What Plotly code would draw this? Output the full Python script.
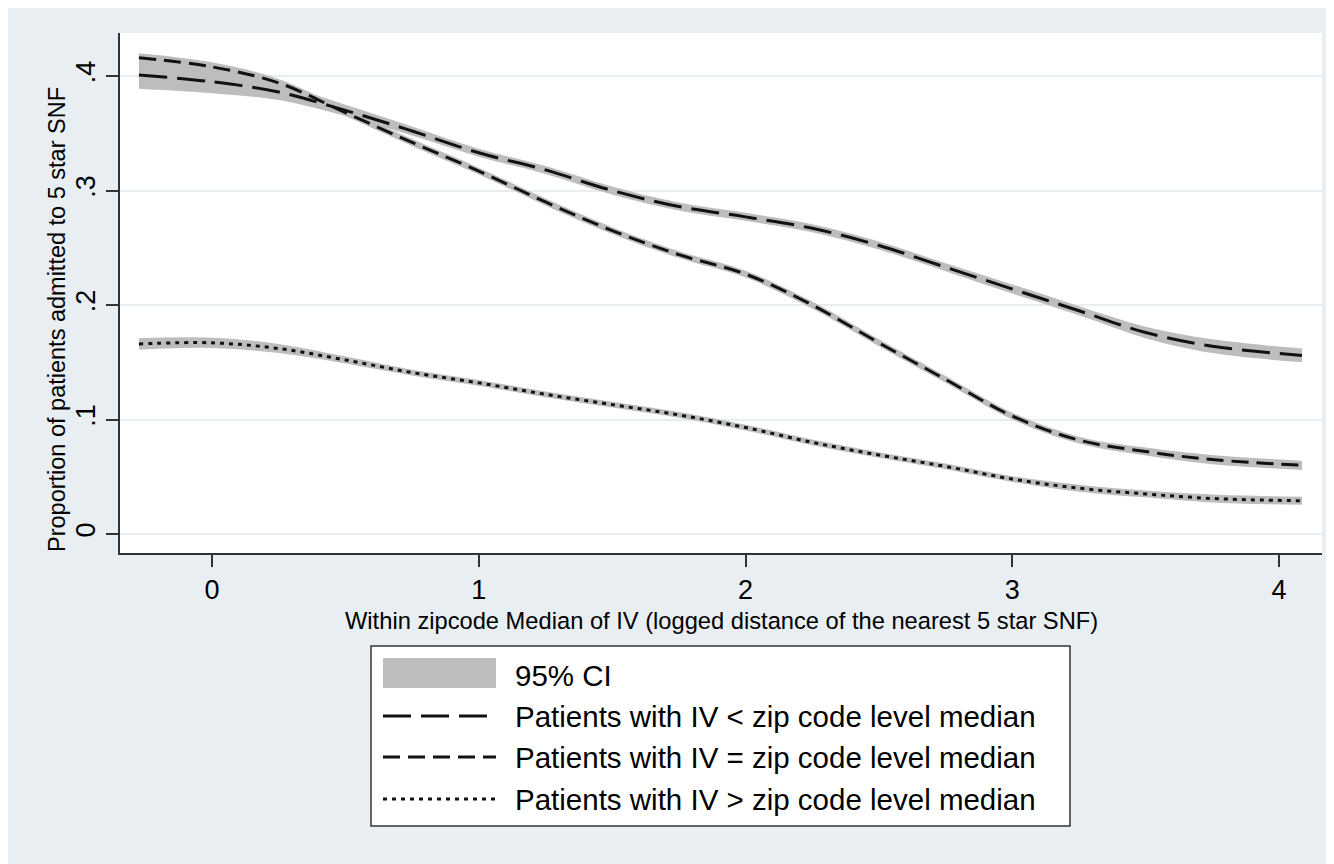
import plotly.graph_objects as go

# ---------------- data ----------------
x_vals = [-0.274, 0.0, 0.25, 0.5, 0.75, 1.0, 1.25, 1.5, 1.75, 2.0, 2.25, 2.5,
          2.75, 3.0, 3.25, 3.5, 3.75, 4.086]

below_median = [0.401, 0.395, 0.386, 0.370, 0.352, 0.333, 0.318, 0.300, 0.286,
                0.277, 0.267, 0.252, 0.233, 0.214, 0.195, 0.176, 0.164, 0.156]
below_ci_half = [0.012, 0.010, 0.007, 0.005, 0.004, 0.0035, 0.0035, 0.0035, 0.0035,
                 0.0035, 0.0035, 0.0035, 0.0035, 0.004, 0.004, 0.005, 0.006, 0.006]

at_median = [0.416, 0.408, 0.394, 0.368, 0.342, 0.317, 0.290, 0.265, 0.244,
             0.227, 0.200, 0.167, 0.135, 0.103, 0.082, 0.072, 0.065, 0.060]
at_ci_half = [0.004, 0.004, 0.0035, 0.003, 0.003, 0.003, 0.003, 0.003, 0.003,
              0.003, 0.003, 0.003, 0.003, 0.003, 0.003, 0.0035, 0.004, 0.004]

above_median = [0.166, 0.167, 0.162, 0.152, 0.141, 0.132, 0.122, 0.113, 0.104,
                0.093, 0.080, 0.069, 0.059, 0.048, 0.040, 0.035, 0.031, 0.029]
above_ci_half = [0.005, 0.0045, 0.004, 0.003, 0.0025, 0.0025, 0.0025, 0.0025, 0.0025,
                 0.0025, 0.0025, 0.0025, 0.0025, 0.0025, 0.003, 0.003, 0.0035, 0.0035]

y_tick_vals = [0, 0.1, 0.2, 0.3, 0.4]
y_tick_text = ["0", ".1", ".2", ".3", ".4"]
x_tick_vals = [0, 1, 2, 3, 4]
x_tick_text = ["0", "1", "2", "3", "4"]

legend_labels = ["95% CI",
                 "Patients with IV < zip code level median",
                 "Patients with IV = zip code level median",
                 "Patients with IV > zip code level median"]

x_title = "Within zipcode Median of IV (logged distance of the nearest 5 star SNF)"
y_title = "Proportion of patients admitted to 5 star SNF"

# ---------------- styling ----------------
FONT = "Liberation Sans, Arial, sans-serif"
OUTER_BG = "#e8eef1"
GRID = "#e6eef0"
CI_COLOR = "#bdbdbd"
LINE_COLOR = "#111111"
AXIS_COLOR = "#333333"
dash_styles = ["28px,10px", "17px,8px", "4px,5px"]

OFF = 8  # page body margin offset (screen px = figure px + OFF)
W, H = 1334 - OFF, 864 - OFF
L, R, T, B = 112, 12, 25, 311
PW, PH = W - L - R, H - T - B


def px_x(px):
    """screen x (px) -> paper coordinate"""
    return (px - OFF - L) / PW


def px_y(py):
    """screen y (px) -> paper coordinate"""
    return (H - B - (py - OFF)) / PH


fig = go.Figure()

series = [(below_median, below_ci_half), (at_median, at_ci_half), (above_median, above_ci_half)]

# CI bands
for vals, half in series:
    lo = [v - h for v, h in zip(vals, half)]
    hi = [v + h for v, h in zip(vals, half)]
    fig.add_trace(go.Scatter(x=x_vals, y=lo, mode="lines", line=dict(width=0, shape="spline"),
                             showlegend=False, hoverinfo="skip"))
    fig.add_trace(go.Scatter(x=x_vals, y=hi, mode="lines", line=dict(width=0, shape="spline"),
                             fill="tonexty", fillcolor=CI_COLOR, showlegend=False, hoverinfo="skip"))

# lines
for (vals, _), dash, name in zip(series, dash_styles, legend_labels[1:]):
    fig.add_trace(go.Scatter(x=x_vals, y=vals, mode="lines", name=name,
                             line=dict(color=LINE_COLOR, width=3, dash=dash, shape="spline"),
                             showlegend=False))

shapes = []
annotations = []

# custom legend box
shapes.append(dict(type="rect", xref="paper", yref="paper", x0=px_x(371), x1=px_x(1070),
                   y0=px_y(646), y1=px_y(826), fillcolor="white",
                   line=dict(color=AXIS_COLOR, width=1.5), layer="above"))
shapes.append(dict(type="rect", xref="paper", yref="paper", x0=px_x(383), x1=px_x(496),
                   y0=px_y(658), y1=px_y(688), fillcolor=CI_COLOR, line=dict(width=0), layer="above"))
row_y = [675, 716, 757, 799]
for ry, dash in zip(row_y[1:], dash_styles):
    shapes.append(dict(type="line", xref="paper", yref="paper", x0=px_x(383), x1=px_x(496),
                       y0=px_y(ry), y1=px_y(ry), line=dict(color=LINE_COLOR, width=3, dash=dash),
                       layer="above"))
for ry, lab in zip(row_y, legend_labels):
    annotations.append(dict(xref="paper", yref="paper", x=px_x(513), y=px_y(ry), text=lab,
                            showarrow=False, xanchor="left", yanchor="middle",
                            font=dict(family=FONT, size=29.5, color="black")))

# axis titles
annotations.append(dict(xref="paper", yref="paper", x=px_x(721), y=px_y(621), text=x_title,
                        showarrow=False, xanchor="center", yanchor="middle",
                        font=dict(family=FONT, size=23.7, color="black")))
annotations.append(dict(xref="paper", yref="paper", x=px_x(57), y=px_y(320), text=y_title,
                        showarrow=False, xanchor="center", yanchor="middle", textangle=-90,
                        font=dict(family=FONT, size=23.5, color="black")))

fig.update_layout(
    width=W, height=H,
    margin=dict(l=L, r=R, t=T, b=B),
    paper_bgcolor=OUTER_BG,
    plot_bgcolor="white",
    font=dict(family=FONT, color="black"),
    showlegend=False,
    shapes=shapes,
    annotations=annotations,
    xaxis=dict(range=[-0.345, 4.161], tickvals=x_tick_vals, ticktext=x_tick_text,
               showgrid=False, zeroline=False, showline=True, linecolor=AXIS_COLOR, linewidth=1.5,
               ticks="outside", ticklen=12, tickwidth=1.5, tickcolor=AXIS_COLOR,
               tickfont=dict(family=FONT, size=27, color="black")),
    yaxis=dict(range=[-0.0166, 0.4376], tickvals=y_tick_vals, ticktext=y_tick_text,
               showgrid=True, gridcolor=GRID, gridwidth=2, zeroline=False,
               showline=True, linecolor=AXIS_COLOR, linewidth=1.5,
               ticks="outside", ticklen=12, tickwidth=1.5, tickcolor=AXIS_COLOR, tickangle=-90,
               tickfont=dict(family=FONT, size=27, color="black")),
)

fig.write_html("out.html")
